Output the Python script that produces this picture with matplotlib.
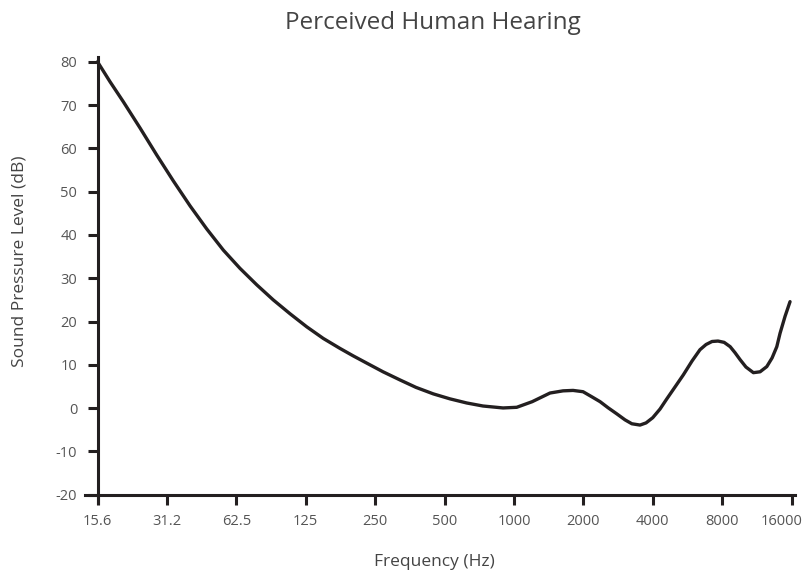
import matplotlib
matplotlib.use("Agg")
import matplotlib.pyplot as plt
import matplotlib.transforms as mtransforms

# ---- data ----
tick_freqs = [15.625, 31.25, 62.5, 125, 250, 500, 1000, 2000, 4000, 8000, 16000]
tick_labels = ["15.6", "31.2", "62.5", "125", "250", "500", "1000", "2000", "4000", "8000", "16000"]
y_ticks = [-20, -10, 0, 10, 20, 30, 40, 50, 60, 70, 80]

freq = [15.625, 17.7, 20.2, 23.9, 28.2, 33.3, 39.4, 46.5, 54.9, 64.8, 76.6, 90.4,
        106.9, 126.2, 149, 176, 200.5, 230, 270.6, 321, 376, 447, 528, 624, 734,
        897, 1028, 1200, 1434, 1633, 1805, 1994, 2181, 2364, 2560, 2791, 3033,
        3246, 3523, 3742, 4000, 4302, 4597, 4997, 5430, 5923, 6410, 6811, 7232,
        7676, 8159, 8666, 9102, 9572, 10147, 10930, 11684, 12494, 13171, 13808,
        14264, 14992, 15760]
spl = [80, 75.4, 70.8, 64.7, 58.5, 52.5, 46.7, 41.4, 36.5, 32.3, 28.5, 25.0,
       21.8, 18.8, 16.1, 13.8, 12.1, 10.4, 8.4, 6.5, 4.8, 3.3, 2.15, 1.2, 0.5,
       0.05, 0.2, 1.5, 3.5, 4.0, 4.1, 3.8, 2.6, 1.5, 0.1, -1.3, -2.7,
       -3.6, -3.9, -3.4, -2.2, -0.2, 2.1, 4.9, 7.7, 10.9, 13.5, 14.7, 15.4,
       15.5, 15.2, 14.2, 12.8, 11.2, 9.5, 8.2, 8.4, 9.6, 11.6, 14.2,
       17.3, 21.2, 24.6]

ink = "#231f20"
tick_txt = "#555555"
lab_txt = "#444444"
plt.rcParams['font.family'] = ['Open Sans', 'DejaVu Sans']
plt.rcParams['axes.unicode_minus'] = False

fig = plt.figure(figsize=(8.05, 5.72), dpi=100)
ax = fig.add_axes([85/805, 1 - 503/572, (795 - 85)/805, (503 - 57)/572])

ax.plot(freq, spl, color=ink, lw=2.4, solid_capstyle='round', solid_joinstyle='round')

ax.set_xscale('log', base=2)
ax.set_xlim(13.79, 16560)
ax.set_ylim(-21.9, 81.1)

ax.spines['top'].set_visible(False)
ax.spines['right'].set_visible(False)
ax.spines['left'].set_position(('data', 15.625))
ax.spines['bottom'].set_position(('data', -20))
for s in ('left', 'bottom'):
    ax.spines[s].set_color(ink)
    ax.spines[s].set_linewidth(2.2)

ax.set_xticks(tick_freqs)
ax.set_xticklabels(tick_labels)
ax.minorticks_off()
ax.set_yticks(y_ticks)
ax.tick_params(axis='both', direction='out', length=7.5, width=2.2, color=ink,
               labelcolor=tick_txt, labelsize=10.5)
ax.tick_params(axis='y', pad=7)
ax.tick_params(axis='x', pad=6)

# nudge the last x label left so it stays inside the canvas
last = ax.get_xticklabels()[-1]
last.set_transform(last.get_transform() +
                   mtransforms.ScaledTranslation(-10/100, 0, fig.dpi_scale_trans))

fig.text(433/805, 1 - 23/572, "Perceived Human Hearing", ha='center', va='center',
         fontsize=17.5, color=lab_txt)
fig.text(434/805, 1 - 562/572, "Frequency (Hz)", ha='center', va='center',
         fontsize=12.5, color=lab_txt)
fig.text(20/805, 1 - 261/572, "Sound Pressure Level (dB)", ha='center', va='center',
         rotation=90, fontsize=12.5, color=lab_txt)

fig.savefig("out.png", dpi=100, facecolor='white')
